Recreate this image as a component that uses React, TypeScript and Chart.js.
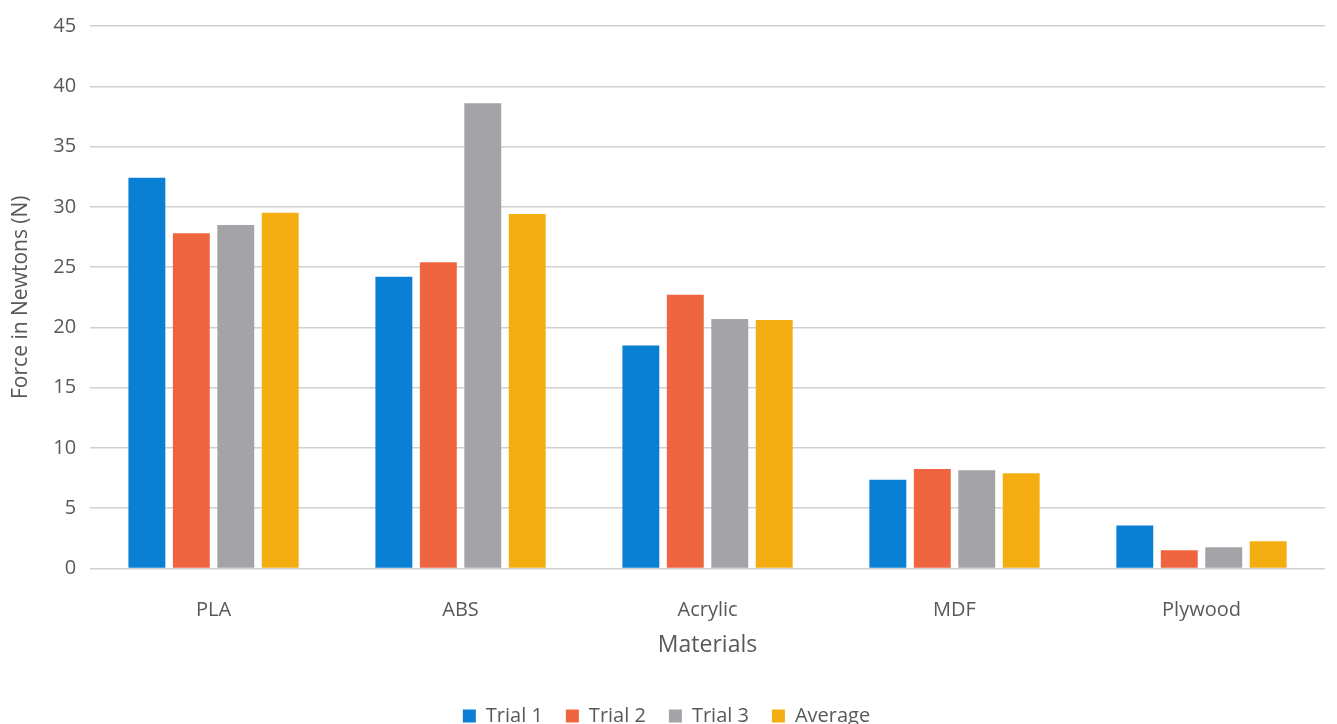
import React, { useEffect, useRef } from "react";
import { Chart, registerables } from "chart.js";

Chart.register(...registerables);

const categories = ["PLA", "ABS", "Acrylic", "MDF", "Plywood"];
const trial1 = [32.4, 24.2, 18.5, 7.35, 3.55];
const trial2 = [27.8, 25.4, 22.7, 8.25, 1.5];
const trial3 = [28.5, 38.6, 20.7, 8.15, 1.75];
const average = [29.5, 29.4, 20.6, 7.9, 2.25];
const seriesNames = ["Trial 1", "Trial 2", "Trial 3", "Average"];
const seriesColors = ["#0a80d5", "#ee6540", "#a3a3a8", "#f4ae12"];
const yTicks = [0, 5, 10, 15, 20, 25, 30, 35, 40, 45];

export default function App() {
  const ref = useRef<HTMLCanvasElement | null>(null);

  useEffect(() => {
    document.body.style.margin = "0";
    if (!ref.current) return;
    const font = "'Open Sans', sans-serif";
    const values = [trial1, trial2, trial3, average];
    const chart = new Chart(ref.current, {
      type: "bar",
      data: {
        labels: categories,
        datasets: values.map((v, i) => ({
          label: seriesNames[i],
          data: v,
          backgroundColor: seriesColors[i],
          borderWidth: 0,
          categoryPercentage: 0.72,
          barPercentage: 0.83,
        })),
      },
      options: {
        responsive: false,
        animation: false,
        maintainAspectRatio: false,
        layout: { padding: { top: 3, right: 12, left: 8, bottom: -12 } },
        plugins: {
          tooltip: { enabled: false },
          legend: {
            position: "bottom",
            labels: {
              font: { family: font, size: 20 },
              color: "#595959",
              boxWidth: 13,
              boxHeight: 13,
              padding: 23,
            },
          },
        },
        scales: {
          x: {
            grid: { display: false, drawTicks: false },
            border: { display: false },
            ticks: {
              font: { family: font, size: 20 },
              color: "#595959",
              padding: 30,
              maxRotation: 0,
            },
            title: {
              display: true,
              text: "Materials",
              font: { family: font, size: 23 },
              color: "#595959",
              padding: { top: -21, bottom: 24 },
            },
          },
          y: {
            min: 0,
            max: 45,
            afterBuildTicks: (axis: any) => {
              axis.ticks = yTicks.map((v) => ({ value: v }));
            },
            grid: { color: "#d0d0d0", lineWidth: 1.5, drawTicks: false },
            border: { display: false },
            ticks: {
              font: { family: font, size: 20 },
              color: "#595959",
              padding: 14,
            },
            title: {
              display: true,
              text: "Force in Newtons (N)",
              font: { family: font, size: 21 },
              color: "#595959",
              padding: { top: 0, bottom: 6 },
            },
          },
        },
      },
    });
    return () => chart.destroy();
  }, []);

  return (
    <div style={{ width: 1337, height: 724, background: "#fff" }}>
      <canvas ref={ref} width={1337} height={724} style={{ display: "block" }} />
    </div>
  );
}
